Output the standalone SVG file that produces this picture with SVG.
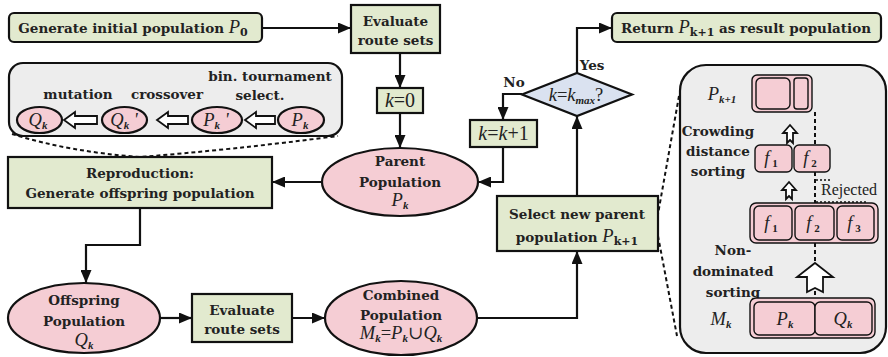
<svg xmlns="http://www.w3.org/2000/svg" width="888" height="357" viewBox="0 0 888 357">
<style>
.g{fill:#e2eacf;stroke:#111;stroke-width:2.2}
.p{fill:#f5cdd4;stroke:#111;stroke-width:2.2}
.pi{fill:#f5cdd4;stroke:#111;stroke-width:1.4}
.panel{fill:#ededed;stroke:#111;stroke-width:2.2}
.c{fill:none;stroke:#111;stroke-width:2.2}
.d{fill:none;stroke:#111;stroke-width:2;stroke-dasharray:4 3}
.dt{fill:none;stroke:#111;stroke-width:1.6;stroke-dasharray:2 2}
.h{fill:#fff;stroke:#111;stroke-width:1.8;stroke-linejoin:miter}
text{font-family:"DejaVu Serif","Liberation Serif",serif;font-weight:bold;font-size:13.5px;fill:#222;text-anchor:middle}
.m{font-family:"Liberation Serif","DejaVu Serif",serif;font-style:italic;font-weight:normal;font-size:18.5px}
.s{font-size:11px;font-weight:bold}
</style>
<defs>
<marker id="a" markerUnits="userSpaceOnUse" markerWidth="13" markerHeight="11" refX="13" refY="5.5" orient="auto">
<path d="M0,0 L13,5.5 L0,11 z" fill="#111"/>
</marker>
</defs>

<g id="panel-left">
<path class="d" d="M12,134 Q70,152 140,157 Q230,150 338,136"/>
<rect class="panel" x="9" y="63" width="333" height="73" rx="14"/>
<text x="270" y="81">bin. tournament</text>
<text x="260" y="100">select.</text>
<text x="78" y="99">mutation</text>
<text x="167" y="99">crossover</text>
<ellipse class="p" cx="39.5" cy="120" rx="22.5" ry="13"/>
<ellipse class="p" cx="124.5" cy="120" rx="22.5" ry="13"/>
<ellipse class="p" cx="217" cy="120" rx="25" ry="13"/>
<ellipse class="p" cx="301" cy="120" rx="23" ry="13"/>
<text class="m" x="38" y="126">Q<tspan class="s" dy="3">k</tspan></text>
<text class="m" x="124" y="126">Q<tspan class="s" dy="3">k</tspan><tspan dy="-3"> '</tspan></text>
<text class="m" x="216" y="126">P<tspan class="s" dy="3">k</tspan><tspan dy="-3"> '</tspan></text>
<text class="m" x="300" y="126">P<tspan class="s" dy="3">k</tspan></text>
<polygon class="h" points="64,120 75,112 75,116 97,116 97,124 75,124 75,128"/>
<polygon class="h" points="157,120 168,112 168,116 188,116 188,124 168,124 168,128"/>
<polygon class="h" points="245,120 256,112 256,116 275,116 275,124 256,124 256,128"/>
</g>

<g id="panel-right">
<path class="d" d="M679,96 L658,214 M658,236 L677,336"/>
<rect class="panel" x="680" y="65" width="206" height="288" rx="26"/>
<text class="m" x="722" y="100">P<tspan class="s" dy="3">k+1</tspan></text>
<rect class="pi" x="752" y="75" width="60" height="37" rx="5"/>
<rect class="pi" x="756" y="78" width="34" height="31" rx="5"/>
<rect class="pi" x="794" y="78" width="14" height="31" rx="3"/>
<text x="718" y="136">Crowding</text>
<text x="718" y="156">distance</text>
<text x="718" y="176">sorting</text>
<polygon class="h" points="790,125 797,133 793,133 793,143 790,140 787,143 787,133 783,133"/>
<rect class="pi" x="755" y="145" width="37" height="27" rx="5"/>
<rect class="pi" x="794" y="145" width="36" height="27" rx="5"/>
<text class="m" x="771" y="164">f<tspan class="s" dy="3" font-weight="normal" font-style="normal"> 1</tspan></text>
<text class="m" x="810" y="164">f<tspan class="s" dy="3" font-weight="normal" font-style="normal"> 2</tspan></text>
<path class="d" d="M815,112 V145 M815,172 V203 M815,243 V262 M815,291 V298"/>
<path class="dt" d="M816,180 H830 M816,202 H868"/>
<text x="849" y="195" style="font-weight:normal;font-family:'Liberation Serif',serif;font-size:16px">Rejected</text>
<polygon class="h" points="789,182 796,190 792,190 792,199 789,196 786,199 786,190 782,190"/>
<rect class="pi" x="750" y="203" width="128" height="40" rx="6"/>
<rect class="pi" x="754" y="206" width="38" height="34" rx="5"/>
<rect class="pi" x="795" y="206" width="39" height="34" rx="5"/>
<rect class="pi" x="837" y="206" width="37" height="34" rx="5"/>
<text class="m" x="771" y="229">f<tspan class="s" dy="3" font-weight="normal" font-style="normal"> 1</tspan></text>
<text class="m" x="813" y="229">f<tspan class="s" dy="3" font-weight="normal" font-style="normal"> 2</tspan></text>
<text class="m" x="854" y="229">f<tspan class="s" dy="3" font-weight="normal" font-style="normal"> 3</tspan></text>
<text x="733" y="255">Non-</text>
<text x="733" y="276">dominated</text>
<text x="733" y="297">sorting</text>
<polygon class="h" points="815,263 833,277 823,277 823,292 815,288 807,292 807,277 797,277"/>
<rect class="pi" x="750" y="298" width="125" height="40" rx="6"/>
<rect class="pi" x="754" y="302" width="61" height="33" rx="5"/>
<rect class="pi" x="815" y="302" width="57" height="33" rx="5"/>
<text class="m" x="721" y="325">M<tspan class="s" dy="3">k</tspan></text>
<text class="m" x="785" y="325">P<tspan class="s" dy="3">k</tspan></text>
<text class="m" x="843" y="325">Q<tspan class="s" dy="3">k</tspan></text>
</g>

<g id="connectors">
<path class="c" marker-end="url(#a)" d="M262,28 H351"/>
<path class="c" marker-end="url(#a)" d="M400,53 V88"/>
<path class="c" marker-end="url(#a)" d="M400,113 V148"/>
<path class="c" marker-end="url(#a)" d="M322,182 H272"/>
<path class="c" marker-end="url(#a)" d="M140,208 V245 H86 V283"/>
<path class="c" marker-end="url(#a)" d="M160,318 H192"/>
<path class="c" marker-end="url(#a)" d="M292,318 H325"/>
<path class="c" marker-end="url(#a)" d="M478,318 H577 V251"/>
<path class="c" marker-end="url(#a)" d="M577,196 V116"/>
<path class="c" marker-end="url(#a)" d="M577,73 V28 H612"/>
<path class="c" marker-end="url(#a)" d="M522,94 H503 V120"/>
<path class="c" marker-end="url(#a)" d="M503,147 V182 H478"/>
<text x="592" y="70">Yes</text>
<text x="514" y="87">No</text>
</g>

<g id="generate">
<rect class="g" x="9" y="13" width="253" height="29" rx="5"/>
<text x="133" y="33">Generate initial population <tspan class="m">P</tspan><tspan class="s" dy="3">0</tspan></text>
</g>
<g id="evaluate1">
<rect class="g" x="351" y="5" width="89" height="48"/>
<text x="395.5" y="26">Evaluate</text>
<text x="395.5" y="45">route sets</text>
</g>
<g id="k0">
<rect class="g" x="377" y="88" width="46" height="25"/>
<text class="m" x="400" y="107" style="font-size:20px">k<tspan font-style="normal">=0</tspan></text>
</g>
<g id="parent">
<ellipse class="p" cx="400" cy="182" rx="78" ry="34"/>
<text x="400" y="166">Parent</text>
<text x="400" y="187">Population</text>
<text class="m" x="400" y="206">P<tspan class="s" dy="3">k</tspan></text>
</g>
<g id="reproduction">
<rect class="g" x="8" y="157" width="264" height="51"/>
<text x="140" y="178">Reproduction:</text>
<text x="140" y="198">Generate offspring population</text>
</g>
<g id="offspring">
<ellipse class="p" cx="84" cy="318" rx="76" ry="35"/>
<text x="84" y="305">Offspring</text>
<text x="84" y="326">Population</text>
<text class="m" x="84" y="346">Q<tspan class="s" dy="3">k</tspan></text>
</g>
<g id="evaluate2">
<rect class="g" x="192" y="294" width="100" height="48"/>
<text x="242" y="315">Evaluate</text>
<text x="242" y="334">route sets</text>
</g>
<g id="combined">
<ellipse class="p" cx="401" cy="318" rx="76" ry="37"/>
<text x="401" y="300">Combined</text>
<text x="401" y="320">Population</text>
<text class="m" x="401" y="339">M<tspan class="s" dy="3">k</tspan><tspan dy="-3" font-style="normal">=</tspan>P<tspan class="s" dy="3">k</tspan><tspan dy="-3" font-style="normal">∪</tspan>Q<tspan class="s" dy="3">k</tspan></text>
</g>
<g id="select">
<rect class="g" x="497" y="196" width="161" height="55"/>
<text x="577" y="219">Select new parent</text>
<text x="577" y="242">population <tspan class="m">P</tspan><tspan class="s" dy="3">k+1</tspan></text>
</g>
<g id="decision">
<polygon points="577,73 632,94.5 577,116 522,94.5" fill="#dae2f0" stroke="#111" stroke-width="2.2"/>
<text class="m" x="576" y="101">k<tspan font-style="normal">=</tspan>k<tspan class="s" dy="3" font-weight="normal">max</tspan><tspan dy="-3" font-style="normal">?</tspan></text>
</g>
<g id="kplus">
<rect class="g" x="470" y="120" width="67" height="27"/>
<text class="m" x="503.5" y="140" style="font-size:20px">k<tspan font-style="normal">=</tspan>k<tspan font-style="normal">+1</tspan></text>
</g>
<g id="return">
<rect class="g" x="612" y="13" width="269" height="29" rx="5"/>
<text x="746" y="33">Return <tspan class="m">P</tspan><tspan class="s" dy="3">k+1</tspan><tspan dy="-3"> as result population</tspan></text>
</g>
</svg>
